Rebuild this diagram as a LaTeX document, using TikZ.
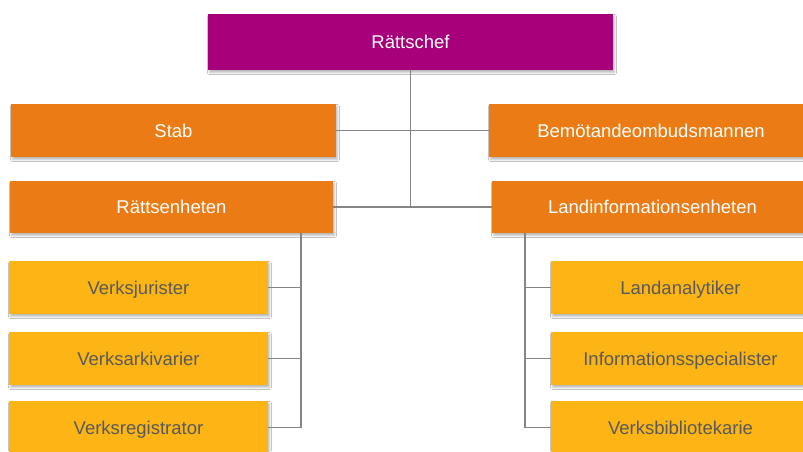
\documentclass[tikz,border=0pt]{standalone}
\usepackage{fontspec}
\setmainfont{Liberation Sans}
\usetikzlibrary{shadows.blur}
\definecolor{chefc}{HTML}{A8007B}
\definecolor{orangec}{HTML}{EB7C15}
\definecolor{yellowc}{HTML}{FCB515}
\definecolor{greytext}{HTML}{595959}
\definecolor{linec}{HTML}{858585}
\tikzset{
  box/.style={rectangle, inner sep=0pt, text height=13.2pt, text depth=0pt,
    font=\fontsize{18.5}{22}\selectfont,
    blur shadow={shadow xshift=1.5pt, shadow yshift=-2.5pt, shadow blur radius=2pt, shadow opacity=28}},
  chefbox/.style={box, fill=chefc, text=white, minimum width=405pt, minimum height=56pt},
  unitbox/.style={box, fill=orangec, text=white, minimum height=53pt},
  subbox/.style={box, fill=yellowc, text=greytext, minimum width=259pt, minimum height=53pt},
  conn/.style={draw=linec, line width=1.6pt}
}
\begin{document}
\begin{tikzpicture}[x=1pt, y=-1pt]
\clip (0,0) rectangle (803,451);
\fill[white] (0,0) rectangle (803,451);
% nodes
\node[chefbox] (chef) at (410.5,42) {Rättschef};
\node[unitbox, minimum width=325pt] (stab) at (173.5,130.5) {Stab};
\node[unitbox, minimum width=324pt] (bem) at (651,130.5) {Bemötandeombudsmannen};
\node[unitbox, minimum width=323pt, minimum height=52pt] (ratt) at (171.5,207) {Rättsenheten};
\node[unitbox, minimum width=321pt, minimum height=52pt] (land) at (652.5,207) {Landinformationsenheten};
\node[subbox] (vj) at (138.5,287.5) {Verksjurister};
\node[subbox] (va) at (138.5,358.5) {Verksarkivarier};
\node[subbox] (vr) at (138.5,427.5) {Verksregistrator};
\node[subbox] (la) at (680.5,287.5) {Landanalytiker};
\node[subbox] (is) at (680.5,358.5) {Informationsspecialister};
\node[subbox] (vb) at (680.5,427.5) {Verksbibliotekarie};
% connectors
\coordinate (trunkend) at (chef.south |- land.west);
\draw[conn] (chef.south) -- (trunkend);
\draw[conn] (stab.east) -- (bem.west);
\draw[conn] (ratt.east) -- (land.west);
\coordinate (lt) at (300.7,233);
\coordinate (rt) at (524.7,233);
\draw[conn] (lt) |- (vj.east);
\draw[conn] (lt) |- (va.east);
\draw[conn] (lt) |- (vr.east);
\draw[conn] (rt) |- (la.west);
\draw[conn] (rt) |- (is.west);
\draw[conn] (rt) |- (vb.west);
\end{tikzpicture}
\end{document}
